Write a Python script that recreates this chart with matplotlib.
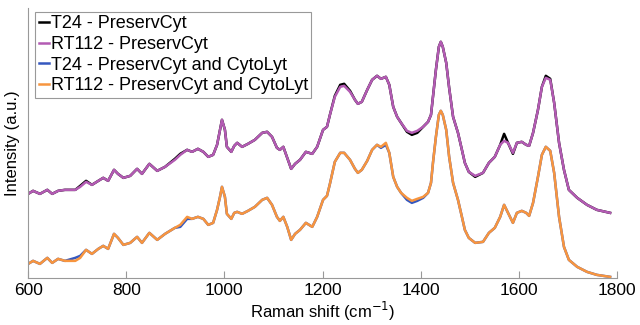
import matplotlib
matplotlib.use("Agg")
import matplotlib.pyplot as plt

plt.rcParams['font.family'] = ['Liberation Sans', 'DejaVu Sans']

# --- Spectra (intensity in arbitrary units) ---
wavenumber = [600, 610, 624, 639, 649, 661, 675, 696, 706, 718, 730, 743, 753, 763,
              775, 783, 794, 808, 822, 832, 847, 863, 879, 899, 910, 924, 934, 946,
              957, 967, 977, 985, 991, 995, 1001, 1005, 1014, 1020, 1026, 1036, 1048,
              1062, 1077, 1087, 1097, 1107, 1113, 1120, 1128, 1136, 1144, 1154, 1166,
              1179, 1189, 1201, 1209, 1215, 1225, 1236, 1244, 1256, 1266, 1272, 1280,
              1291, 1301, 1311, 1319, 1329, 1336, 1344, 1352, 1360, 1372, 1382, 1393,
              1405, 1415, 1421, 1425, 1431, 1437, 1441, 1445, 1452, 1458, 1466, 1476,
              1484, 1490, 1498, 1511, 1527, 1539, 1551, 1562, 1570, 1578, 1588, 1596,
              1606, 1615, 1621, 1629, 1639, 1647, 1655, 1664, 1672, 1682, 1692, 1702,
              1719, 1739, 1759, 1786]

rt112_pc = [84, 87, 84, 88, 84, 87, 88, 88, 91, 96, 93, 97, 100, 97,
            108, 104, 100, 102, 109, 104, 114, 107, 111, 118, 123, 128, 126, 129,
            126, 121, 123, 133, 148, 158, 148, 131, 126, 132, 135, 131, 134,
            138, 145, 146, 141, 130, 128, 131, 120, 109, 114, 118, 126,
            124, 131, 148, 151, 163, 181, 191, 192, 186, 178, 174, 176,
            188, 198, 202, 199, 201, 193, 171, 161, 155, 147, 145, 147,
            151, 156, 163, 181, 208, 231, 236, 231, 215, 190, 161, 145,
            128, 115, 106, 102, 105, 115, 121, 133, 137, 135, 125, 135,
            136, 133, 132, 145, 168, 191, 200, 198, 175, 135, 108, 88,
            80, 73, 68, 65]

t24_pc = [84, 87, 84, 88, 84, 87, 88, 88, 92, 97, 93, 97, 100, 97,
          108, 104, 100, 102, 109, 104, 114, 107, 111, 119, 124, 128, 126, 129,
          126, 121, 123, 133, 148, 158, 148, 131, 126, 132, 135, 131, 134,
          138, 145, 146, 141, 130, 128, 131, 120, 109, 114, 118, 126,
          124, 131, 148, 151, 163, 182, 193, 194, 187, 178, 174, 176,
          188, 198, 202, 199, 201, 193, 171, 161, 155, 146, 143, 145,
          151, 156, 163, 181, 208, 231, 236, 231, 215, 190, 161, 145,
          128, 115, 106, 101, 105, 115, 121, 133, 144, 135, 124, 135,
          136, 133, 132, 145, 168, 191, 202, 199, 175, 135, 108, 88,
          80, 73, 68, 65]

rt112_pc_cl = [14, 17, 14, 20, 15, 19, 17, 17, 20, 28, 24, 29, 32, 29,
               44, 40, 33, 35, 41, 35, 45, 38, 44, 50, 53, 61, 59, 61,
               59, 53, 55, 68, 81, 91, 81, 64, 59, 65, 66, 64, 67,
               71, 78, 80, 73, 61, 57, 61, 51, 38, 44, 48, 55,
               51, 61, 78, 82, 94, 116, 125, 125, 118, 109, 105, 108,
               117, 128, 133, 131, 135, 125, 101, 91, 85, 80, 77, 79,
               81, 85, 95, 115, 141, 163, 167, 163, 148, 121, 95, 78,
               61, 48, 40, 35, 36, 45, 50, 61, 73, 65, 55, 65,
               67, 65, 62, 75, 101, 123, 131, 127, 105, 61, 31, 18,
               11, 6, 3, 1]

t24_pc_cl = [14, 17, 14, 20, 15, 19, 17, 20, 22, 28, 24, 29, 32, 29,
             44, 40, 33, 35, 41, 35, 45, 38, 44, 50, 51, 59, 59, 61,
             59, 53, 55, 68, 81, 91, 81, 64, 59, 65, 66, 64, 67,
             71, 78, 80, 73, 61, 57, 61, 51, 38, 44, 48, 55,
             51, 61, 78, 82, 94, 116, 125, 125, 118, 109, 105, 108,
             117, 128, 133, 130, 133, 125, 101, 91, 85, 78, 75, 77,
             80, 85, 95, 115, 141, 163, 167, 163, 148, 121, 95, 78,
             61, 48, 40, 35, 36, 45, 50, 61, 73, 65, 55, 65,
             67, 65, 62, 75, 101, 123, 131, 127, 105, 61, 31, 18,
             11, 6, 3, 1]

labels = ["T24 - PreservCyt", "RT112 - PreservCyt",
          "T24 - PreservCyt and CytoLyt", "RT112 - PreservCyt and CytoLyt"]
colors = ["#000000", "#B35BB3", "#3558BF", "#F7953F"]

fig = plt.figure(figsize=(6.4, 3.25), dpi=100)
ax = fig.add_axes([0.044, 0.145, 0.92, 0.831])

for series, label, color in zip([t24_pc, rt112_pc, t24_pc_cl, rt112_pc_cl], labels, colors):
    ax.plot(wavenumber, series, color=color, lw=1.8, label=label)

ax.set_xlim(600, 1800)
ax.set_ylim(0, 270)
ax.set_xticks([600, 800, 1000, 1200, 1400, 1600, 1800])
ax.set_yticks([])
ax.tick_params(axis='x', direction='in', length=5, color='#999999', labelsize=12.5, pad=4)

for side in ['top', 'right']:
    ax.spines[side].set_visible(False)
for side in ['left', 'bottom']:
    ax.spines[side].set_color('#999999')

ax.set_xlabel("Raman shift (cm$^{-1}$)", fontsize=12, labelpad=1)
ax.set_ylabel("Intensity (a.u.)", fontsize=12, labelpad=6)

leg = ax.legend(loc='upper left', bbox_to_anchor=(0.012, 0.985), borderaxespad=0,
                fontsize=13, handlelength=0.55, handletextpad=0.1, labelspacing=0.2,
                borderpad=0.2, fancybox=False, framealpha=1)
leg.get_frame().set_edgecolor('#999999')
leg.get_frame().set_linewidth(0.8)

fig.savefig("out.png", dpi=100)
